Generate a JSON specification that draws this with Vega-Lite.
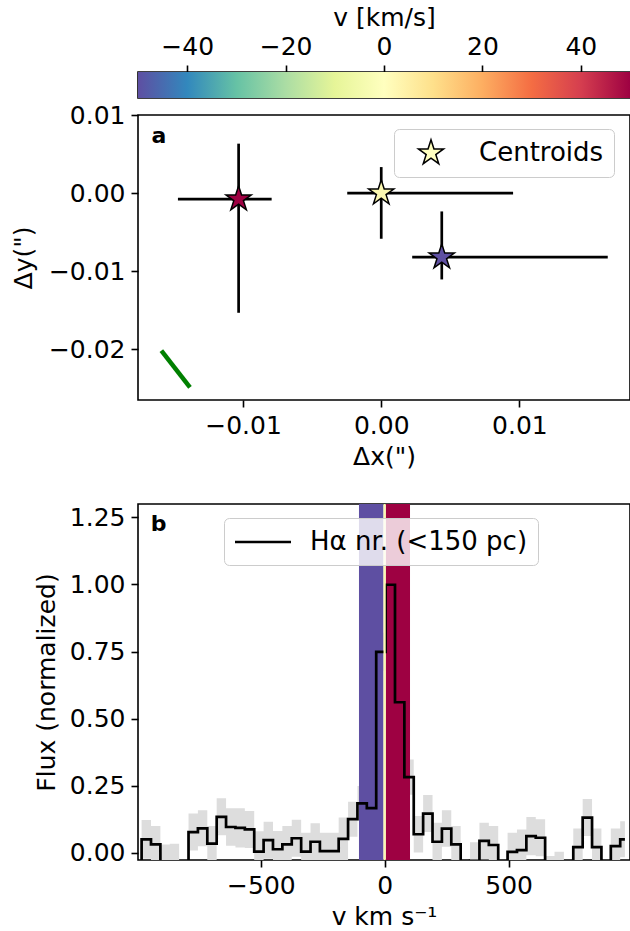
{
  "$schema": "https://vega.github.io/schema/vega-lite/v6.json",
  "autosize": {"type": "pad"},
  "padding": {"left": 10, "top": 4, "right": 0, "bottom": 0},
  "background": "white",
  "config": {
    "font": "DejaVu Sans",
    "view": {"stroke": "black", "strokeWidth": 1.6},
    "axis": {
      "grid": false,
      "domain": false,
      "ticks": true,
      "tickColor": "black",
      "tickSize": 7,
      "tickWidth": 1.6,
      "labelFont": "DejaVu Sans",
      "labelFontSize": 25,
      "labelColor": "black",
      "labelPadding": 6,
      "labelFlush": false,
      "labelOverlap": false,
      "labelExpr": "replace(datum.label, '-', '−')",
      "titleFont": "DejaVu Sans",
      "titleFontSize": 25,
      "titleFontWeight": "normal",
      "titleColor": "black",
      "titlePadding": 8
    },
    "legend": {"labelFont": "DejaVu Sans", "labelFontSize": 25, "labelColor": "black", "labelLimit": 500}
  },
  "datasets": {
    "cbar": [{"lo": -50, "hi": 50}],
    "cen": [
      {"label": "Centroids", "v": 50, "dx": -0.01032, "dy": -0.00077, "xlo": -0.01471, "xhi": -0.00793, "ylo": -0.01533, "yhi": 0.00633},
      {"label": "Centroids", "v": 0, "dx": 0.0, "dy": 0.0, "xlo": -0.00246, "xhi": 0.00954, "ylo": -0.00585, "yhi": 0.00333},
      {"label": "Centroids", "v": -50, "dx": 0.00438, "dy": -0.0082, "xlo": 0.00224, "xhi": 0.01639, "ylo": -0.01106, "yhi": -0.00235}
    ],
    "pa": [
      {"gx": -0.01591, "gy": -0.02017},
      {"gx": -0.01384, "gy": -0.02487}
    ],
    "bands": [
      {"vc": -50, "v0": -104, "v1": -5},
      {"vc": 50, "v0": 4, "v1": 102},
      {"vc": 0, "v0": -5, "v1": 4}
    ],
    "spec": [
      {"v": -1000.4, "f": -0.06, "lo": -0.13, "hi": -0.03},
      {"v": -962.5, "f": 0.050, "lo": -0.022, "hi": 0.122},
      {"v": -924.6, "f": 0.031, "lo": -0.038, "hi": 0.100},
      {"v": -886.7, "f": -0.04, "lo": -0.111, "hi": 0.031},
      {"v": -848.9, "f": -0.04, "lo": -0.114, "hi": 0.034},
      {"v": -811.0, "f": -0.10, "lo": -0.17, "hi": -0.03},
      {"v": -773.1, "f": 0.077, "lo": 0.008, "hi": 0.146},
      {"v": -735.2, "f": 0.091, "lo": 0.024, "hi": 0.158},
      {"v": -697.3, "f": 0.034, "lo": -0.032, "hi": 0.100},
      {"v": -659.5, "f": 0.134, "lo": 0.065, "hi": 0.203},
      {"v": -621.6, "f": 0.096, "lo": 0.026, "hi": 0.166},
      {"v": -583.7, "f": 0.093, "lo": 0.020, "hi": 0.166},
      {"v": -545.8, "f": 0.087, "lo": 0.018, "hi": 0.156},
      {"v": -507.9, "f": 0.004, "lo": -0.072, "hi": 0.080},
      {"v": -470.1, "f": 0.047, "lo": -0.022, "hi": 0.116},
      {"v": -432.2, "f": 0.013, "lo": -0.055, "hi": 0.081},
      {"v": -394.3, "f": 0.031, "lo": -0.038, "hi": 0.100},
      {"v": -356.4, "f": 0.054, "lo": -0.015, "hi": 0.123},
      {"v": -318.5, "f": 0.004, "lo": -0.067, "hi": 0.075},
      {"v": -280.7, "f": 0.041, "lo": -0.028, "hi": 0.110},
      {"v": -242.8, "f": 0.006, "lo": -0.063, "hi": 0.075},
      {"v": -204.9, "f": 0.006, "lo": -0.063, "hi": 0.075},
      {"v": -167.0, "f": 0.052, "lo": -0.027, "hi": 0.131},
      {"v": -129.1, "f": 0.125, "lo": 0.060, "hi": 0.190},
      {"v": -91.3, "f": 0.184, "lo": 0.119, "hi": 0.249},
      {"v": -53.4, "f": 0.166, "lo": 0.097, "hi": 0.235},
      {"v": -15.5, "f": 0.749, "lo": 0.678, "hi": 0.820},
      {"v": 22.4, "f": 0.999, "lo": 0.928, "hi": 1.070},
      {"v": 60.3, "f": 0.561, "lo": 0.492, "hi": 0.630},
      {"v": 98.1, "f": 0.282, "lo": 0.216, "hi": 0.348},
      {"v": 136.0, "f": 0.069, "lo": 0.001, "hi": 0.137},
      {"v": 173.9, "f": 0.146, "lo": 0.077, "hi": 0.215},
      {"v": 211.8, "f": 0.041, "lo": -0.030, "hi": 0.112},
      {"v": 249.7, "f": 0.090, "lo": 0.022, "hi": 0.158},
      {"v": 287.5, "f": 0.031, "lo": -0.038, "hi": 0.100},
      {"v": 325.4, "f": -0.06, "lo": -0.09, "hi": -0.03},
      {"v": 363.3, "f": -0.03, "lo": -0.099, "hi": 0.039},
      {"v": 401.2, "f": 0.044, "lo": -0.024, "hi": 0.112},
      {"v": 439.1, "f": 0.029, "lo": -0.042, "hi": 0.100},
      {"v": 476.9, "f": -0.08, "lo": -0.13, "hi": -0.03},
      {"v": 514.8, "f": 0.003, "lo": -0.069, "hi": 0.075},
      {"v": 552.7, "f": 0.010, "lo": -0.067, "hi": 0.087},
      {"v": 590.6, "f": 0.062, "lo": -0.009, "hi": 0.133},
      {"v": 628.5, "f": 0.056, "lo": -0.013, "hi": 0.125},
      {"v": 666.3, "f": -0.08, "lo": -0.148, "hi": -0.012},
      {"v": 704.2, "f": -0.066, "lo": -0.136, "hi": 0.004},
      {"v": 742.1, "f": -0.10, "lo": -0.17, "hi": -0.03},
      {"v": 780.0, "f": 0.021, "lo": -0.048, "hi": 0.090},
      {"v": 817.9, "f": 0.131, "lo": 0.062, "hi": 0.200},
      {"v": 855.7, "f": 0.021, "lo": -0.048, "hi": 0.090},
      {"v": 893.6, "f": -0.08, "lo": -0.13, "hi": -0.03},
      {"v": 931.5, "f": 0.025, "lo": -0.040, "hi": 0.090},
      {"v": 969.4, "f": 0.050, "lo": -0.017, "hi": 0.117}
    ]
  },
  "vconcat": [
    {
      "width": 492,
      "height": 26,
      "data": {"name": "cbar"},
      "mark": {
        "type": "rect",
        "fill": {
          "gradient": "linear",
          "x1": 0, "y1": 0, "x2": 1, "y2": 0,
          "stops": [
            {"offset": 0.0, "color": "#5e4fa2"},
            {"offset": 0.1, "color": "#3288bd"},
            {"offset": 0.2, "color": "#66c2a5"},
            {"offset": 0.3, "color": "#abdda4"},
            {"offset": 0.4, "color": "#e6f598"},
            {"offset": 0.5, "color": "#ffffbf"},
            {"offset": 0.6, "color": "#fee08b"},
            {"offset": 0.7, "color": "#fdae61"},
            {"offset": 0.8, "color": "#f46d43"},
            {"offset": 0.9, "color": "#d53e4f"},
            {"offset": 1.0, "color": "#9e0142"}
          ]
        }
      },
      "encoding": {
        "x": {
          "field": "lo",
          "type": "quantitative",
          "scale": {"domain": [-50, 50], "nice": false, "zero": false},
          "axis": {"orient": "top", "values": [-40, -20, 0, 20, 40], "format": "d", "title": "v [km/s]", "titlePadding": 4}
        },
        "x2": {"field": "hi"}
      }
    },
    {
      "width": 492,
      "height": 285,
      "layer": [
        {
          "data": {"name": "pa"},
          "mark": {"type": "line", "color": "#008000", "strokeWidth": 4.5, "clip": true},
          "encoding": {
            "x": {
              "field": "gx",
              "type": "quantitative",
              "scale": {"domain": [-0.0176, 0.018], "nice": false, "zero": false},
              "axis": {"values": [-0.01, 0, 0.01], "format": ".2f", "title": "Δx(\")", "titlePadding": 6}
            },
            "y": {
              "field": "gy",
              "type": "quantitative",
              "scale": {"domain": [-0.0265, 0.01], "nice": false, "zero": false},
              "axis": {"values": [-0.02, -0.01, 0, 0.01], "format": ".2f", "title": "Δy(\")", "titlePadding": 12}
            }
          }
        },
        {
          "data": {"name": "cen"},
          "mark": {"type": "rule", "color": "black", "strokeWidth": 2.7},
          "encoding": {
            "x": {"field": "xlo", "type": "quantitative"},
            "x2": {"field": "xhi"},
            "y": {"field": "dy", "type": "quantitative"}
          }
        },
        {
          "data": {"name": "cen"},
          "mark": {"type": "rule", "color": "black", "strokeWidth": 2.7},
          "encoding": {
            "x": {"field": "dx", "type": "quantitative"},
            "y": {"field": "ylo", "type": "quantitative"},
            "y2": {"field": "yhi"}
          }
        },
        {
          "data": {"name": "cen"},
          "mark": {"type": "point", "filled": true, "color": "#ffffbf", "stroke": "black", "strokeWidth": 1.5, "size": 700, "opacity": 1},
          "encoding": {
            "x": {"field": "dx", "type": "quantitative"},
            "y": {"field": "dy", "type": "quantitative"},
            "fill": {
              "field": "v",
              "type": "quantitative",
              "scale": {"scheme": "spectral", "reverse": true, "domain": [-50, 50]},
              "legend": null
            },
            "shape": {
              "field": "label",
              "type": "nominal",
              "scale": {"range": ["M0,-1L0.2245,-0.309L0.9511,-0.309L0.3633,0.118L0.5878,0.809L0,0.382L-0.5878,0.809L-0.3633,0.118L-0.9511,-0.309L-0.2245,-0.309Z"]},
              "legend": {
                "title": null,
                "orient": "none",
                "legendX": 256,
                "legendY": 57,
                "padding": 10,
                "fillColor": "rgba(255,255,255,0.8)",
                "strokeColor": "#cccccc",
                "cornerRadius": 5,
                "symbolSize": 700,
                "symbolOffset": 13,
                "labelOffset": 34,
                "labelFontSize": 26,
                "symbolStrokeWidth": 1.5,
                "symbolFillColor": "#ffffbf",
                "symbolStrokeColor": "black",
                "symbolOpacity": 1
              }
            }
          }
        },
        {
          "data": {"values": [{}]},
          "mark": {"type": "text", "text": "a", "font": "DejaVu Sans", "fontWeight": "bold", "fontSize": 22, "align": "left", "baseline": "alphabetic", "color": "black"},
          "encoding": {
            "x": {"datum": -0.01663, "type": "quantitative"},
            "y": {"datum": 0.00641, "type": "quantitative"}
          }
        }
      ]
    },
    {
      "width": 492,
      "height": 70,
      "view": {"stroke": null},
      "data": {"values": []},
      "mark": "point"
    },
    {
      "width": 492,
      "height": 356,
      "layer": [
        {
          "data": {"name": "spec"},
          "mark": {"type": "area", "interpolate": "step", "color": "#dddddd", "clip": true},
          "encoding": {
            "x": {
              "field": "v",
              "type": "quantitative",
              "scale": {"domain": [-996, 990], "nice": false, "zero": false},
              "axis": {"values": [-500, 0, 500], "format": "d", "title": "v km s⁻¹", "titlePadding": 6}
            },
            "y": {
              "field": "lo",
              "type": "quantitative",
              "scale": {"domain": [-0.027, 1.3], "nice": false, "zero": false},
              "axis": {"values": [0, 0.25, 0.5, 0.75, 1, 1.25], "format": ".2f", "title": "Flux (normalized)", "titlePadding": 10}
            },
            "y2": {"field": "hi"}
          }
        },
        {
          "data": {"name": "bands"},
          "transform": [{"filter": "datum.vc != 0"}],
          "mark": {"type": "rect", "clip": true},
          "encoding": {
            "x": {"field": "v0", "type": "quantitative"},
            "x2": {"field": "v1"},
            "fill": {
              "field": "vc",
              "type": "quantitative",
              "scale": {"scheme": "spectral", "reverse": true, "domain": [-50, 50]},
              "legend": null
            }
          }
        },
        {
          "data": {"name": "spec"},
          "mark": {"type": "line", "interpolate": "step", "strokeWidth": 2.7, "clip": true},
          "encoding": {
            "x": {"field": "v", "type": "quantitative"},
            "y": {"field": "f", "type": "quantitative"},
            "stroke": {
              "datum": "Hα nr. (<150 pc)",
              "type": "nominal",
              "scale": {"range": ["black"]},
              "legend": {
                "title": null,
                "orient": "none",
                "legendX": 86,
                "legendY": 446,
                "padding": 10,
                "fillColor": "rgba(255,255,255,0.8)",
                "strokeColor": "#cccccc",
                "cornerRadius": 5,
                "symbolType": "M-2.24,0H2.24",
                "symbolSize": 625,
                "symbolStrokeWidth": 2.7,
                "symbolFillColor": "transparent",
                "symbolOffset": 15,
                "labelOffset": 33,
                "labelFontSize": 26
              }
            }
          }
        },
        {
          "data": {"name": "bands"},
          "transform": [{"filter": "datum.vc == 0"}],
          "mark": {"type": "rect", "clip": true},
          "encoding": {
            "x": {"field": "v0", "type": "quantitative"},
            "x2": {"field": "v1"},
            "fill": {
              "field": "vc",
              "type": "quantitative",
              "scale": {"scheme": "spectral", "reverse": true, "domain": [-50, 50]},
              "legend": null
            }
          }
        },
        {
          "data": {"values": [{}]},
          "mark": {"type": "text", "text": "b", "font": "DejaVu Sans", "fontWeight": "bold", "fontSize": 22, "align": "left", "baseline": "alphabetic", "color": "black"},
          "encoding": {
            "x": {"datum": -945, "type": "quantitative"},
            "y": {"datum": 1.2, "type": "quantitative"}
          }
        }
      ]
    }
  ],
  "spacing": 17,
  "bounds": "flush"
}
